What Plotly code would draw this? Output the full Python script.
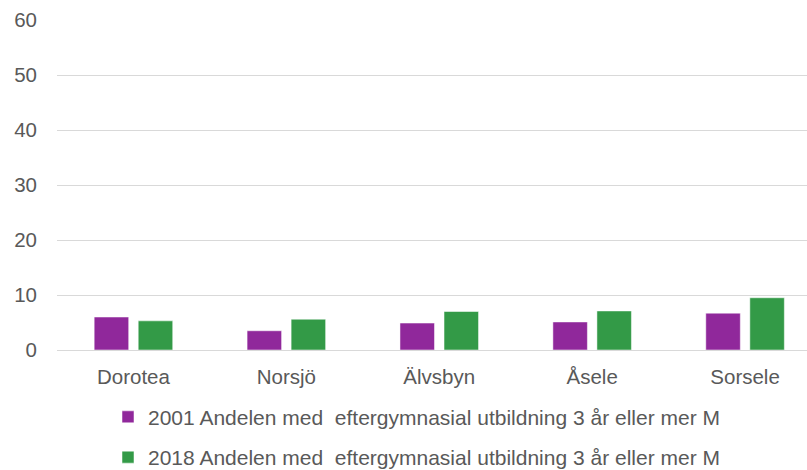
import plotly.graph_objects as go

categories = ["Dorotea", "Norsjö", "Älvsbyn", "Åsele", "Sorsele"]
values_2001 = [6.0, 3.5, 4.9, 5.1, 6.7]
values_2018 = [5.3, 5.6, 7.0, 7.1, 9.5]
name_2001 = "2001 Andelen med  eftergymnasial utbildning 3 år eller mer M"
name_2018 = "2018 Andelen med  eftergymnasial utbildning 3 år eller mer M"
y_ticks = [0, 10, 20, 30, 40, 50, 60]

purple = "#90289b"
green = "#339a47"
text_col = "#595959"
font_family = "Liberation Sans, Arial, sans-serif"
fs = 20.5

fig = go.Figure()
fig.add_trace(go.Bar(x=categories, y=values_2001, name=name_2001,
                     marker=dict(color=purple, line=dict(color="rgba(255,255,255,0.5)", width=1)),
                     legendgroup="a"))
fig.add_trace(go.Bar(x=categories, y=values_2018, name=name_2018,
                     marker=dict(color=green, line=dict(color="rgba(255,255,255,0.5)", width=1)),
                     legendgroup="b"))

fig.update_layout(
    width=807, height=470,
    margin=dict(l=57, r=0, t=20, b=120),
    paper_bgcolor="white", plot_bgcolor="white",
    font=dict(family=font_family, size=fs, color=text_col),
    barmode="group", bargap=0.424, bargroupgap=0.216,
    showlegend=True,
    legend=dict(orientation="v", x=0.068, xanchor="left", xref="paper",
                y=0.156, yanchor="top", yref="container",
                font=dict(size=21, color=text_col), tracegroupgap=10,
                itemwidth=30, traceorder="grouped"),
    xaxis=dict(range=[-0.5, 4.405], showgrid=False, showline=False, ticks="",
               ticklabelstandoff=12, tickfont=dict(size=fs, color=text_col)),
    yaxis=dict(range=[0, 60], tickvals=y_ticks, showgrid=True, gridcolor="#d9d9d9",
               gridwidth=1, zeroline=True, zerolinecolor="#d9d9d9", zerolinewidth=1,
               ticks="", ticklabelstandoff=19, tickfont=dict(size=fs, color=text_col)),
)

fig.write_html("out.html", config={"displayModeBar": False},
               post_script="document.body.style.margin='0';document.body.style.overflow='hidden';")
